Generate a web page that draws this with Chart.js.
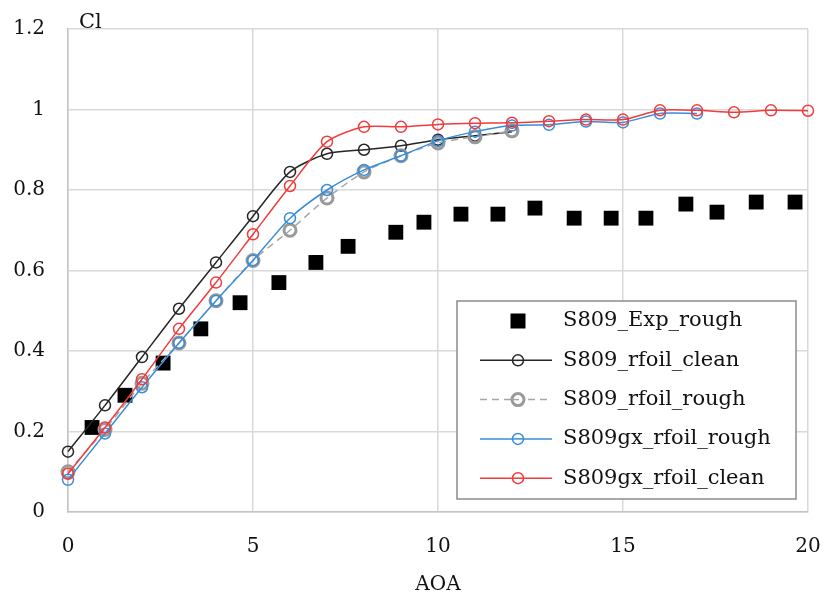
<!DOCTYPE html>
<html>
<head>
<meta charset="utf-8">
<title>S809 Cl vs AOA</title>
<script src="https://cdn.jsdelivr.net/npm/chart.js@4.4.1/dist/chart.umd.min.js"></script>
<style>
  html, body { margin: 0; padding: 0; background: #fff; }
  canvas { display: block; }
</style>
</head>
<body>
<canvas id="grafico" width="829" height="599"></canvas>
<script>
// ensaio experimental (rugoso)
const aoaExp = [0.65, 1.54, 2.57, 3.59, 4.65, 5.7, 6.7, 7.57, 8.86, 9.62, 10.62, 11.62, 12.62, 13.68, 14.68, 15.62, 16.7, 17.54, 18.6, 19.65];
const clExp = [0.21, 0.29, 0.37, 0.455, 0.52, 0.57, 0.62, 0.66, 0.695, 0.72, 0.74, 0.74, 0.755, 0.73, 0.73, 0.73, 0.765, 0.745, 0.77, 0.77];

// RFOIL, ângulos inteiros
const aoa = [0, 1, 2, 3, 4, 5, 6, 7, 8, 9, 10, 11, 12, 13, 14, 15, 16, 17, 18, 19, 20];
const clRfoilClean = [0.15, 0.265, 0.385, 0.505, 0.62, 0.735, 0.845, 0.89, 0.9, 0.91, 0.925, 0.935, 0.945];
const clRfoilRough = [0.1, 0.205, 0.32, 0.42, 0.525, 0.625, 0.7, 0.78, 0.845, 0.885, 0.917, 0.932, 0.947];
const clGxRough = [0.08, 0.195, 0.31, 0.42, 0.525, 0.625, 0.73, 0.8, 0.85, 0.885, 0.922, 0.945, 0.96, 0.962, 0.97, 0.968, 0.99, 0.99];
const clGxClean = [0.095, 0.21, 0.33, 0.455, 0.57, 0.69, 0.81, 0.92, 0.957, 0.957, 0.963, 0.966, 0.967, 0.971, 0.975, 0.975, 0.998, 0.998, 0.993, 0.998, 0.997];

const fonte = 'DejaVu Serif, Liberation Serif, serif';
const corTexto = '#111';

function pontos(xs, ys) {
    return ys.map((y, i) => ({ x: xs[i], y: y }));
}

function serieLinha(label, ys, cor, extra) {
    return Object.assign({
        label: label,
        data: pontos(aoa, ys),
        borderColor: cor,
        borderWidth: 1.5,
        pointRadius: 5.5,
        pointBorderWidth: 1.5,
        pointBorderColor: cor,
        pointBackgroundColor: 'rgba(0,0,0,0)',
        tension: 0.25,
        clip: false
    }, extra || {});
}

// legenda com caixa, linha e marcador
const legendaCaixa = {
    id: 'legendaCaixa',
    afterDraw(chart) {
        const ctx = chart.ctx;
        const bx = 457, by = 301, bw = 339, bh = 198;
        ctx.save();
        ctx.fillStyle = '#fff';
        ctx.fillRect(bx, by, bw, bh);
        ctx.strokeStyle = '#8c8c8c';
        ctx.lineWidth = 1.5;
        ctx.strokeRect(bx, by, bw, bh);

        chart.data.datasets.forEach((ds, i) => {
            const y = 321 + i * 39.3;
            const cx = 518;
            if (ds.showLine === false) {
                ctx.fillStyle = ds.backgroundColor;
                ctx.fillRect(cx - 7.5, y - 7.5, 15, 15);
            } else {
                ctx.strokeStyle = ds.borderColor;
                ctx.lineWidth = ds.borderWidth;
                ctx.setLineDash(ds.borderDash || []);
                ctx.beginPath();
                ctx.moveTo(480, y);
                ctx.lineTo(552, y);
                ctx.stroke();
                ctx.setLineDash([]);
                ctx.fillStyle = '#fff';
                ctx.strokeStyle = ds.pointBorderColor;
                ctx.lineWidth = ds.pointBorderWidth;
                ctx.beginPath();
                ctx.arc(cx, y, ds.pointRadius, 0, Math.PI * 2);
                ctx.fill();
                ctx.stroke();
                ctx.strokeStyle = ds.borderColor;
                ctx.lineWidth = ds.borderWidth;
                ctx.setLineDash(ds.borderDash || []);
                ctx.beginPath();
                ctx.moveTo(cx - ds.pointRadius, y);
                ctx.lineTo(cx + ds.pointRadius, y);
                ctx.stroke();
                ctx.setLineDash([]);
            }
            ctx.fillStyle = corTexto;
            ctx.font = '21px ' + fonte;
            ctx.textBaseline = 'middle';
            ctx.textAlign = 'left';
            ctx.fillText(ds.label, 563, y);
        });

        // rótulo do eixo vertical
        ctx.fillStyle = corTexto;
        ctx.font = '21px ' + fonte;
        ctx.textBaseline = 'alphabetic';
        ctx.fillText('Cl', 79, 28);
        ctx.restore();
    }
};

// marcas de escala invisíveis só para afastar os rótulos do eixo
const gradeEixo = { color: '#d9d9d9', lineWidth: 1.5, drawTicks: true, tickLength: 22, tickColor: 'rgba(0,0,0,0)' };

new Chart(document.getElementById('grafico'), {
    type: 'line',
    data: {
        datasets: [
            {
                label: 'S809_Exp_rough',
                data: pontos(aoaExp, clExp),
                showLine: false,
                pointStyle: 'rect',
                pointRadius: 10.5,
                pointBorderWidth: 0,
                backgroundColor: '#000',
                borderColor: '#000',
                clip: false,
                order: 5
            },
            serieLinha('S809_rfoil_clean', clRfoilClean, '#262626', { order: 4 }),
            serieLinha('S809_rfoil_rough', clRfoilRough, '#a6a6a6', {
                borderDash: [7, 5],
                pointRadius: 6,
                pointBorderWidth: 3,
                pointBorderColor: '#9a9a9a',
                order: 3
            }),
            serieLinha('S809gx_rfoil_rough', clGxRough, '#3a8dd8', { order: 2 }),
            serieLinha('S809gx_rfoil_clean', clGxClean, '#f03c3c', { order: 1 })
        ]
    },
    options: {
        responsive: false,
        animation: false,
        layout: { padding: { top: 29, right: 21, left: 0, bottom: 0 } },
        plugins: {
            legend: { display: false },
            tooltip: { enabled: false }
        },
        scales: {
            x: {
                type: 'linear',
                min: 0,
                max: 20,
                afterFit(scale) { scale.height = 87; },
                ticks: { stepSize: 5, padding: 1, color: corTexto, font: { family: fonte, size: 20 } },
                grid: gradeEixo,
                border: { color: '#c4c4c4', width: 1.5 },
                title: {
                    display: true,
                    text: 'AOA',
                    color: corTexto,
                    font: { family: fonte, size: 20 },
                    padding: { top: 0, bottom: 2 }
                }
            },
            y: {
                min: 0,
                max: 1.2,
                afterFit(scale) { scale.width = 68; },
                ticks: {
                    stepSize: 0.2,
                    padding: 1,
                    color: corTexto,
                    font: { family: fonte, size: 20 },
                    callback: (v) => String(Number(v.toFixed(1)))
                },
                grid: gradeEixo,
                border: { color: '#c4c4c4', width: 1.5 }
            }
        }
    },
    plugins: [legendaCaixa]
});
</script>
</body>
</html>
